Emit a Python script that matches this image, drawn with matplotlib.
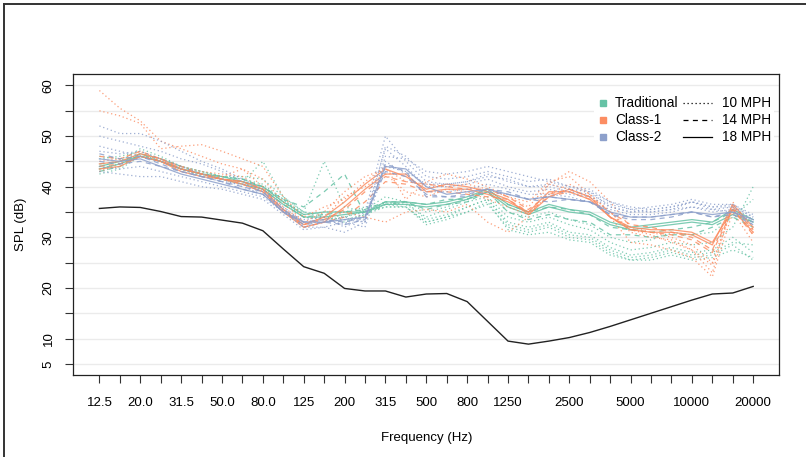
import matplotlib
matplotlib.use("Agg")
import matplotlib.pyplot as plt
from matplotlib.lines import Line2D

plt.rcParams["font.family"] = ["Liberation Sans", "DejaVu Sans"]

# one-third octave bands
bands = ["12.5", "16", "20", "25", "31.5", "40", "50", "63", "80", "100", "125", "160",
         "200", "250", "315", "400", "500", "630", "800", "1000", "1250", "1600", "2000",
         "2500", "3150", "4000", "5000", "6300", "8000", "10000", "12500", "16000", "20000"]
shown_labels = {"12.5": "12.5", "20": "20.0", "31.5": "31.5", "50": "50.0", "80": "80.0",
                "125": "125", "200": "200", "315": "315", "500": "500", "800": "800",
                "1250": "1250", "2500": "2500", "5000": "5000", "10000": "10000",
                "20000": "20000"}

# Traditional
t_10a = [43, 44, 46, 45, 43.5, 42.5, 41.5, 41, 45, 38, 35, 45, 36, 35, 36, 36, 33, 34, 35, 36.5, 32, 31, 32, 30, 29.5, 27, 25.5, 26, 27, 26, 26.5, 28.5, 25.5]
t_10b = [44, 45, 47.5, 46, 44, 43, 42, 41.5, 40.5, 37.5, 34.5, 35, 35, 36, 36.5, 37, 33.5, 34.5, 36, 37.5, 33, 32, 33, 31, 30.5, 28, 26.5, 27, 28, 27, 27.5, 30, 27]
t_10c = [42.5, 43.5, 46, 45, 43.5, 42, 41.5, 40.5, 39.5, 37, 35, 34, 33, 34.5, 37, 36.5, 34, 35.5, 37, 38, 34, 33, 34, 32.5, 31.5, 29, 27.5, 28, 29, 28.5, 29, 32, 40]
t_10d = [45.5, 46, 47, 45.5, 44, 43, 42, 41.5, 40, 37.5, 34, 33.5, 34, 35, 36.5, 36, 32.5, 33.5, 35, 37, 31.5, 30.5, 31, 29.5, 29, 26.5, 25.5, 25.5, 26.5, 25.5, 26, 27.5, 26]
t_10e = [43.5, 44.5, 46.5, 45.5, 44, 43, 42, 42, 41.5, 38, 35, 34.5, 34, 35.5, 38, 37, 35, 36, 37.5, 39, 35, 34, 35, 33.5, 32.5, 30, 29, 29.5, 31, 30.5, 31, 34, 37.5]
t_10f = [46, 45.5, 46.5, 45, 43.5, 42.5, 41.5, 41, 40, 37, 34, 34, 33.5, 34.5, 36, 36, 33, 34, 36, 37.5, 32.5, 31.5, 32.5, 30.5, 30, 27.5, 26, 26.5, 27.5, 26.5, 27, 29, 28.5]
t_14a = [43, 44, 46.5, 45.5, 44, 42.5, 42, 41.5, 40, 37.5, 36, 39, 42.5, 34.5, 36.5, 37, 36.5, 37.5, 37.5, 39.5, 36.5, 35, 36, 35.5, 34.5, 32, 31.5, 31, 31.5, 32, 33, 35, 33]
t_14b = [44.5, 45, 46.5, 45, 43.5, 42.5, 41.5, 41, 39.5, 36.5, 34, 34.5, 35, 35.5, 37, 37, 35.5, 36.5, 37, 39, 35, 33.5, 34.5, 33.5, 33, 30.5, 30.5, 30, 30.5, 30.5, 32, 34, 32]
t_18a = [44, 45, 46, 45, 43.5, 42.5, 42, 41, 40, 37, 34.5, 35, 35, 35, 37, 37, 36.5, 37, 38, 39.5, 36.5, 35, 36.5, 35.5, 35, 33, 32, 32.5, 33, 33.5, 33, 35.5, 33.5]
t_18b = [43.5, 44.5, 46, 45, 43.5, 42.5, 41.5, 40.5, 39.5, 36.5, 34, 34, 34.5, 35, 36.5, 36.5, 36, 36.5, 37.5, 39, 36, 34.5, 36, 35, 34.5, 32.5, 31.5, 32, 32.5, 33, 32.5, 34.5, 33]

# Class-1
c1_10a = [59, 55.5, 53, 49, 47.5, 46, 44.5, 43.5, 41.5, 37, 33, 35, 39, 42, 43.5, 41, 40.5, 40, 40.5, 39.5, 38, 36, 40.5, 43, 41, 37, 32, 31, 30, 28.5, 25, 36.5, 31]
c1_10b = [55, 54, 52.5, 47.5, 48, 48.3, 47, 45.5, 44, 38, 34, 36, 37.5, 41, 44, 37.5, 41, 42.5, 41.5, 40, 38, 37, 41, 42, 38.5, 35, 31, 30, 29.5, 27.5, 23, 37, 31.5]
c1_10c = [43, 44.5, 46, 45, 43.5, 42.5, 42, 43.5, 40, 36, 33, 33.5, 35, 34, 33, 35, 35.5, 35, 36.5, 33, 31, 34, 40.5, 39.5, 38, 34, 29, 28.5, 27.5, 26, 22.2, 35, 29]
c1_10d = [45, 45.5, 47, 45, 44, 43, 42.5, 42, 39.5, 35.5, 32.5, 34, 38, 40, 42.5, 39, 38, 39.5, 39, 37.5, 36, 34.5, 38.5, 40.5, 38.5, 35, 31.5, 30.5, 29, 27.5, 24.5, 36, 30.5]
c1_14a = [44, 44.5, 46, 45, 43.5, 42.5, 41.5, 41, 39.5, 35.5, 32, 33, 34, 37, 41, 40.5, 39, 39, 38.5, 38, 37.5, 35, 38, 39, 37.5, 34, 31.5, 31, 30.5, 29.5, 27, 35.5, 30.5]
c1_14b = [46, 45.5, 47, 45.5, 44, 42.5, 41.5, 40.5, 39, 35, 32.5, 33.5, 35.5, 39, 42, 41, 40.5, 40, 39.5, 39.5, 38, 35.5, 38.5, 39.5, 38, 35, 32.5, 32, 31, 30, 27.5, 36, 31.5]
c1_18a = [44.5, 45, 46.5, 45.5, 43.5, 42.5, 41.5, 41, 39.5, 35.5, 32.5, 34, 37, 40.5, 43.5, 42, 39.5, 40.5, 40, 39, 37.5, 34.5, 38, 39.5, 38, 34, 31.5, 31, 31, 30.5, 28.5, 36.5, 32]
c1_18b = [43.5, 44, 46, 45, 43, 42, 41.5, 40.5, 39, 35, 32, 33, 36, 39.5, 42.5, 42.5, 39, 39.5, 39.5, 38.5, 37, 35, 39, 39, 37.5, 34, 32, 31.5, 31.5, 31, 29, 35.5, 31]

# Class-2
c2_10a = [52, 50.5, 50.5, 49, 47, 45, 43.5, 41.5, 39.5, 36, 33, 33.5, 32.5, 35, 50, 45, 41, 40.5, 41, 42, 41.5, 40, 40.5, 39.5, 39, 36, 35, 35.5, 36, 37, 36, 36.5, 34]
c2_10b = [50, 49, 48, 47, 45.5, 44.5, 43, 41, 39, 35.5, 32, 32, 31, 33, 46, 45.5, 43, 42.5, 43, 44, 43, 42, 41, 40, 39, 37, 36, 35.5, 36, 37, 36, 36, 33.5]
c2_10c = [47, 46.5, 47, 45.5, 44, 42.5, 41.5, 40, 38.5, 35, 33.5, 34, 32, 34, 47.5, 44, 40, 40, 40.5, 41.5, 40, 39, 39.5, 38.5, 38, 36, 35, 35, 35.5, 36, 35.5, 35, 32.5]
c2_10d = [44, 43.5, 44, 43, 42, 41, 40, 39, 38, 35, 32, 33, 33.5, 33, 45, 42.5, 39, 39, 39.5, 40.5, 39.5, 38.5, 38.5, 38, 37, 35.5, 34.5, 34.5, 35, 36, 35, 35.5, 33]
c2_10e = [43, 42.5, 42, 42, 41, 40, 39.5, 38.5, 37.5, 34.5, 31.5, 32, 33, 32, 44, 43, 40.5, 40.5, 41, 42.5, 41, 40, 40, 39, 38.5, 36.5, 35.5, 35, 35.5, 37, 35.5, 36, 34]
c2_10f = [48, 47, 46, 45, 43.5, 42, 41, 40.5, 39, 35.5, 33, 33, 34, 33, 48, 46, 42, 41.5, 42, 43, 42, 41, 41.5, 40, 39.5, 37, 35.5, 36, 36.5, 37.5, 36.5, 36.5, 34.5]
c2_14a = [45, 44.5, 45, 44, 43, 42, 41, 40, 39, 35.5, 33, 33.5, 33, 34, 43, 42, 38.5, 38, 38, 39, 38.5, 37.5, 37, 37.5, 37, 34.5, 34, 34, 34.5, 35, 34, 35, 33]
c2_14b = [46.5, 45.5, 46, 44.5, 43, 42, 41, 39.5, 38.5, 35, 32.5, 33, 32.5, 33.5, 44.5, 43, 38, 38, 38.5, 39.5, 39, 37.5, 38, 37.5, 37, 34.5, 33.5, 33.5, 34, 35, 34, 34.5, 32.5]
c2_18a = [45.5, 45, 45.5, 44, 42.5, 41.5, 40.5, 39.5, 38.5, 35, 33, 33, 33.5, 34, 44, 43.5, 40, 38.5, 39, 39.5, 38.5, 37.5, 38, 37.5, 37, 35, 34, 34, 34.5, 35, 34.5, 35, 33.5]

# black reference curve
background = [35.7, 36.0, 35.9, 35.1, 34.1, 34.0, 33.4, 32.8, 31.3, 27.7, 24.2, 22.9, 19.9, 19.4, 19.4,
              18.2, 18.8, 18.9, 17.3, 13.4, 9.5, 8.9, 9.5, 10.2, 11.2, 12.4, 13.7, 15.0, 16.3, 17.6,
              18.8, 19.0, 20.3]

trad_series = [t_10a, t_10b, t_10c, t_10d, t_10e, t_10f, t_14a, t_14b, t_18a, t_18b]
trad_speeds = [10, 10, 10, 10, 10, 10, 14, 14, 18, 18]
c1_series = [c1_10a, c1_10b, c1_10c, c1_10d, c1_14a, c1_14b, c1_18a, c1_18b]
c1_speeds = [10, 10, 10, 10, 14, 14, 18, 18]
c2_series = [c2_10a, c2_10b, c2_10c, c2_10d, c2_10e, c2_10f, c2_14a, c2_14b, c2_18a]
c2_speeds = [10, 10, 10, 10, 10, 10, 14, 14, 18]

classes = ["Traditional", "Class-1", "Class-2"]
speeds = [10, 14, 18]

colors = {"Traditional": "#66C2A5", "Class-1": "#FC8D62", "Class-2": "#8DA0CB"}
styles = {10: (0, (1, 2.2)), 14: (0, (4, 3.5)), 18: "-"}


def main():
    fig = plt.figure(figsize=(8.06, 4.57), dpi=100)
    ax = fig.add_axes([0.0909, 0.1794, 0.876, 0.658])

    x = list(range(1, len(bands) + 1))
    for yv in range(5, 61, 5):
        ax.axhline(yv, color="#EBEBEB", lw=1.0, zorder=0)

    groups = [("Traditional", trad_series, trad_speeds),
              ("Class-1", c1_series, c1_speeds),
              ("Class-2", c2_series, c2_speeds)]
    for name, series, spd in groups:
        for vals, s in zip(series, spd):
            ax.plot(x, vals, color=colors[name], ls=styles[s], lw=0.9, alpha=0.85, zorder=2)

    ax.plot(x, background, color="#222222", lw=1.0, zorder=3)

    ax.set_xlim(1 - 0.04 * 32, 33 + 0.04 * 32)
    ax.set_ylim(5 - 0.04 * 55, 60 + 0.04 * 55)
    ax.set_xticks(x)
    ax.set_xticklabels([shown_labels.get(b, "") for b in bands], fontsize=9.5)
    yt = list(range(5, 61, 5))
    ax.set_yticks(yt)
    ax.set_yticklabels([str(v) if v in (5, 10, 20, 30, 40, 50, 60) else "" for v in yt],
                       rotation=90, va="center", fontsize=9.5)
    ax.tick_params(length=6, width=0.8, color="#333333")
    ax.tick_params(axis="x", pad=9.5)
    ax.tick_params(axis="y", pad=7.5)
    for sp in ax.spines.values():
        sp.set_linewidth(0.9)
        sp.set_color("#222222")

    ax.set_xlabel("Frequency (Hz)", fontsize=9.5, labelpad=17)
    ax.set_ylabel("SPL (dB)", fontsize=9.5, labelpad=11.5)

    # legend: speeds (line types) first, classes (colour squares) drawn on top
    speed_handles = [Line2D([], [], color="black", lw=0.9, ls=styles[s]) for s in speeds]
    leg2 = ax.legend(speed_handles, ["%d MPH" % s for s in speeds], loc="upper right",
                     bbox_to_anchor=(1.0015, 0.958), fontsize=9.8, frameon=True,
                     facecolor="white", edgecolor="none", framealpha=1, handlelength=2.1,
                     handletextpad=0.7, labelspacing=0.22, borderpad=0.2)
    leg2.set_zorder(5)
    ax.add_artist(leg2)

    class_handles = [Line2D([], [], ls="none", marker="s", ms=5, color=colors[c]) for c in classes]
    leg1 = ax.legend(class_handles, classes, loc="upper left", bbox_to_anchor=(0.7285, 0.958),
                     fontsize=9.8, frameon=True, facecolor="white", edgecolor="none",
                     framealpha=1, handlelength=0.8, handletextpad=0.5,
                     labelspacing=0.22, borderpad=0.2)
    leg1.set_zorder(6)

    # outer border (partly cropped in the original)
    fig.add_artist(Line2D([3.5 / 806, 1], [1 - 3.5 / 457, 1 - 3.5 / 457], color="#333333", lw=1.4))
    fig.add_artist(Line2D([3.5 / 806, 3.5 / 806], [0, 1 - 3.5 / 457], color="#333333", lw=1.4))

    fig.savefig("out.png", dpi=100)


main()
